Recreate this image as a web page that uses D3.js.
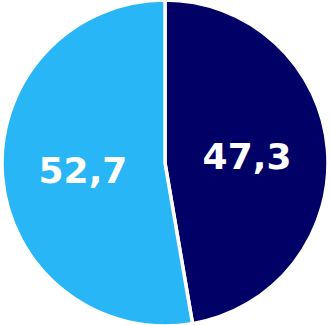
<!DOCTYPE html>
<html><head><meta charset="utf-8">
<script src="https://cdn.jsdelivr.net/npm/d3@7"></script>
<style>html,body{margin:0;padding:0;background:#fff;}svg{display:block;}</style>
</head><body>
<svg id="c" width="331" height="325"></svg>
<script>
const categories = ["A", "B"];
const values = [47.3, 52.7];
const labels = ["47,3", "52,7"];
const colors = ["#000066", "#29b6f6"];

const svg = d3.select("#c");
const cx = 165, cy = 163, r = 163;
const g = svg.append("g").attr("transform", `translate(${cx},${cy})`);
const pie = d3.pie().sort(null).value(d => d.v);
const data = pie(categories.map((c, i) => ({c, v: values[i], l: labels[i], col: colors[i]})));
const arc = d3.arc().innerRadius(0).outerRadius(r);
g.selectAll("path").data(data).join("path")
  .attr("d", arc).attr("fill", d => d.data.col)
  .attr("stroke", "#fff").attr("stroke-width", 3.5).attr("stroke-linejoin", "round");
const la = d3.arc().innerRadius(r * 0.505).outerRadius(r * 0.505);
g.selectAll("text").data(data).join("text")
  .attr("transform", d => `translate(${la.centroid(d)})`)
  .attr("text-anchor", "middle").attr("dy", "0.36em")
  .attr("font-family", "DejaVu Sans").attr("font-weight", "bold")
  .attr("font-size", 36).attr("fill", "#fff")
  .text(d => d.data.l);
</script>
</body></html>
